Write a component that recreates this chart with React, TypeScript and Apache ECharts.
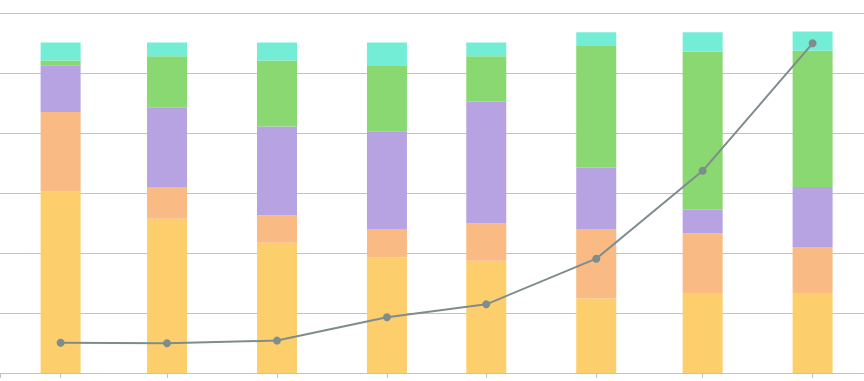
import React, { useEffect, useRef } from "react";
import * as echarts from "echarts";

const months = ["2018-11-01", "2018-12-01", "2019-01-01", "2019-02-01", "2019-03-01", "2019-04-01", "2019-05-01", "2019-06-01"];
const seriesA = [303, 257, 217, 193, 187, 124, 132, 132];
const seriesB = [132, 53, 46, 47, 62, 116, 101, 78];
const seriesC = [78, 133, 148, 163, 203, 102, 39, 100];
const seriesD = [8, 85, 110, 110, 76, 203, 264, 227];
const seriesE = [30, 23, 30, 38, 23, 23, 32, 32];
const lineValues = [50.5, 49.5, 54, 93, 114.5, 190.5, 337, 549.5];

const barColors = ["#FDCF6C", "#F9BA83", "#B7A3E2", "#8AD871", "#74EDD6"];
const DAY = 24 * 3600 * 1000;

export default function App() {
  const ref = useRef<HTMLDivElement>(null);
  useEffect(() => {
    if (!ref.current) return;
    const chart = echarts.init(ref.current, undefined, { renderer: "svg" });
    const toDate = (s: string) => {
      const [y, m, d] = s.split("-").map(Number);
      return new Date(y, m - 1, d).getTime();
    };
    const first = toDate(months[0]);
    const last = toDate(months[months.length - 1]);
    const barSets = [seriesA, seriesB, seriesC, seriesD, seriesE];
    chart.setOption({
      animation: false,
      grid: { left: 0, right: 0, top: 13, bottom: 8, containLabel: false },
      xAxis: {
        type: "time",
        min: first - 11.45 * DAY,
        max: last + 8.85 * DAY,
        splitNumber: 8,
        minInterval: 28 * DAY,
        maxInterval: 31 * DAY,
        axisLabel: { show: false },
        axisLine: { lineStyle: { color: "#BDC3C7" } },
        axisTick: { show: true, length: 5, lineStyle: { color: "#BDC3C7" } },
        splitLine: { show: false },
        minorTick: { show: false },
      },
      yAxis: {
        type: "value",
        min: 0,
        max: 600,
        interval: 100,
        axisLabel: { show: false },
        axisLine: { show: false },
        axisTick: { show: false },
        splitLine: { lineStyle: { color: "#BDC3C7" } },
      },
      series: [
        ...barSets.map((vals, i) => ({
          type: "bar",
          stack: "total",
          barWidth: 40,
          itemStyle: { color: barColors[i] },
          data: months.map((m, j) => [toDate(m), vals[j]]),
        })),
        {
          type: "line",
          symbol: "circle",
          symbolSize: 8,
          z: 5,
          itemStyle: { color: "#7F8C8D" },
          lineStyle: { color: "#7F8C8D", width: 2 },
          data: months.map((m, j) => [toDate(m), lineValues[j]]),
        },
      ],
    });
    return () => chart.dispose();
  }, []);
  return <div ref={ref} style={{ width: 864, height: 381, position: "absolute", left: 0, top: 0 }} />;
}
